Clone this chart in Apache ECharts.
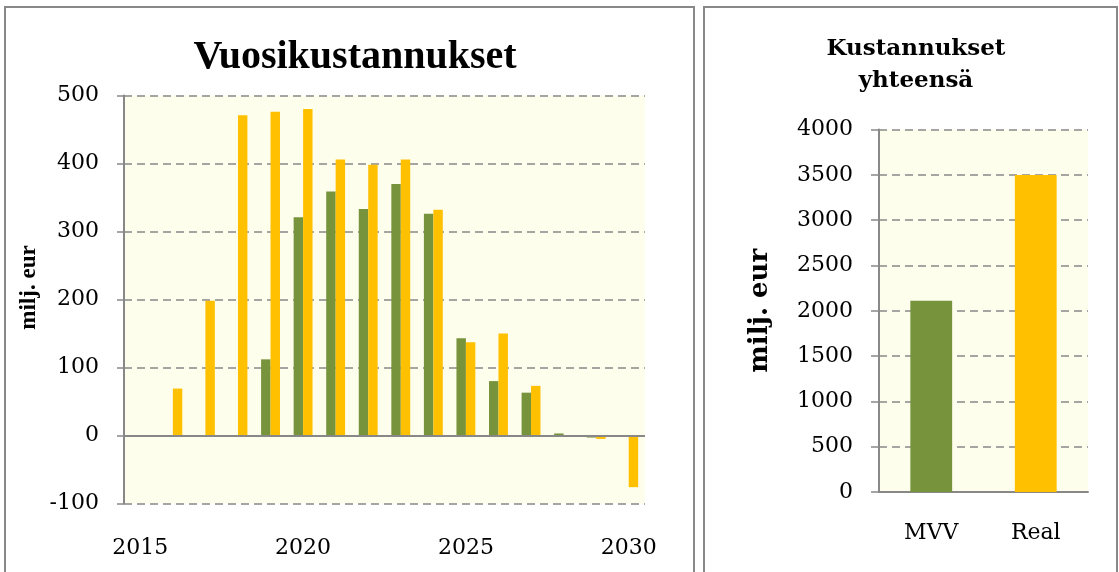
<!DOCTYPE html>
<html>
<head>
<meta charset="utf-8">
<script src="https://cdn.jsdelivr.net/npm/echarts@6/dist/echarts.min.js"></script>
<style>
  html, body { margin: 0; padding: 0; background: #fff; }
  #chart { width: 1119px; height: 572px; }
</style>
</head>
<body>
<div id="chart"></div>
<script>
// data
const years = ['2015', '2016', '2017', '2018', '2019', '2020', '2021', '2022',
  '2023', '2024', '2025', '2026', '2027', '2028', '2029', '2030'];
const mvvYearly = [null, null, null, null, 112, 321, 359, 333, 370, 326, 143, 80, 63, 3, -3, null];
const realYearly = [null, 69, 198, 471, 476, 480, 406, 398, 406, 332, 137, 150, 73, -1, -5, -76];
const totalNames = ['MVV', 'Real'];
const totalValues = [2110, 3500];

const GREEN = '#77933C';
const ORANGE = '#FFC000';
const GRAY = '#888888';
const PLOT_BG = '#fefeec';
const tickFont = { fontFamily: 'DejaVu Serif', fontSize: 22, color: '#000' };

const chart = echarts.init(document.getElementById('chart'));

const dashed = { show: true, lineStyle: { color: GRAY, width: 1.5, type: [8, 5] } };

const option = {
  animation: false,
  backgroundColor: '#fff',
  title: [
    {
      text: 'Vuosikustannukset',
      left: 350, top: 33, textAlign: 'center',
      textStyle: { fontFamily: 'Liberation Serif', fontWeight: 'bold', fontSize: 40, color: '#000' }
    },
    {
      text: 'Kustannukset\nyhteensä',
      left: 911, top: 28, textAlign: 'center',
      textStyle: { fontFamily: 'DejaVu Serif', fontWeight: 'bold', fontSize: 23, lineHeight: 32, color: '#000' }
    }
  ],
  graphic: [
    { type: 'rect', shape: { x: 5, y: 7, width: 689, height: 600 }, style: { fill: 'none', stroke: GRAY, lineWidth: 2 } },
    { type: 'rect', shape: { x: 704, y: 7, width: 413, height: 600 }, style: { fill: 'none', stroke: GRAY, lineWidth: 2 } }
  ],
  grid: [
    { left: 124, right: 474, top: 95.5, bottom: 68.5, show: true, backgroundColor: PLOT_BG, borderWidth: 0 },
    { left: 879, right: 31, top: 129.6, bottom: 80, show: true, backgroundColor: PLOT_BG, borderWidth: 0 }
  ],
  xAxis: [
    {
      type: 'category', gridIndex: 0, data: years,
      axisLine: { show: false, onZero: false },
      axisTick: { show: false },
      axisLabel: Object.assign({ interval: 4, margin: 34 }, tickFont)
    },
    {
      type: 'category', gridIndex: 1, data: totalNames,
      axisLine: { lineStyle: { color: GRAY, width: 2 } },
      axisTick: { show: false },
      axisLabel: Object.assign({ margin: 30 }, tickFont)
    }
  ],
  yAxis: [
    {
      type: 'value', gridIndex: 0, min: -100, max: 500, interval: 100,
      name: 'milj. eur', nameLocation: 'middle', nameGap: 83,
      nameTextStyle: { fontFamily: 'Liberation Serif', fontWeight: 'bold', fontSize: 23, color: '#000', padding: [0, 0, 0, 24] },
      axisLine: { show: true, lineStyle: { color: GRAY, width: 2 } },
      axisTick: { show: true, length: 7, lineStyle: { color: GRAY, width: 1.5 } },
      axisLabel: Object.assign({ margin: 25 }, tickFont),
      splitLine: dashed
    },
    {
      type: 'value', gridIndex: 1, min: 0, max: 4000, interval: 500,
      name: 'milj. eur', nameLocation: 'middle', nameGap: 106,
      nameTextStyle: { fontFamily: 'DejaVu Serif', fontWeight: 'bold', fontSize: 26, color: '#000' },
      axisLine: { show: true, lineStyle: { color: GRAY, width: 2 } },
      axisTick: { show: true, length: 8, lineStyle: { color: GRAY, width: 1.5 } },
      axisLabel: Object.assign({ margin: 26, formatter: v => String(v) }, tickFont),
      splitLine: dashed
    }
  ],
  series: [
    {
      name: 'MVV', type: 'bar', xAxisIndex: 0, yAxisIndex: 0,
      data: mvvYearly, barGap: '0%', barCategoryGap: '42%',
      itemStyle: { color: GREEN },
      markLine: {
        silent: true, symbol: 'none', label: { show: false },
        lineStyle: { color: GRAY, width: 2, type: 'solid' },
        data: [{ yAxis: 0 }]
      }
    },
    {
      name: 'Real', type: 'bar', xAxisIndex: 0, yAxisIndex: 0,
      data: realYearly, barGap: '0%', barCategoryGap: '42%',
      itemStyle: { color: ORANGE }
    },
    {
      name: 'yhteensä', type: 'bar', xAxisIndex: 1, yAxisIndex: 1,
      data: totalValues, barWidth: '40%',
      itemStyle: { color: p => (p.dataIndex === 0 ? GREEN : ORANGE) }
    }
  ]
};

chart.setOption(option);
</script>
</body>
</html>
